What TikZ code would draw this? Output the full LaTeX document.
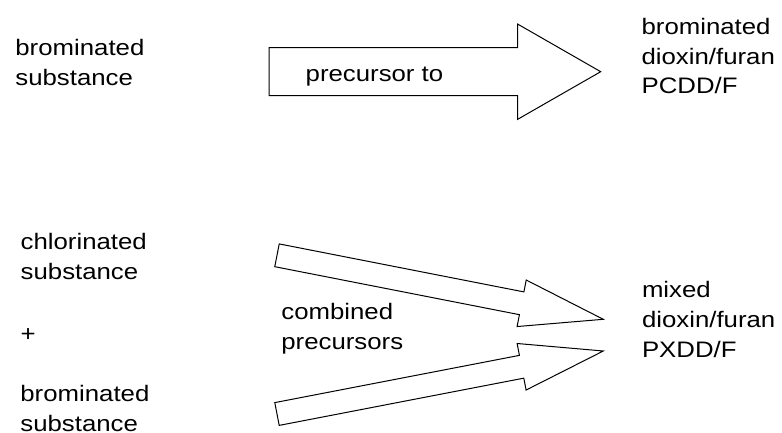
\documentclass[tikz,border=0pt]{standalone}
\usepackage{fontspec}
\setmainfont{Liberation Sans}[FakeStretch=1.15]
\usetikzlibrary{calc}

\tikzset{
  txt/.style={anchor=base west, inner sep=0pt, align=left, font=\fontsize{22.5}{30}\selectfont},
  fatarrow/.style={draw=black, line width=1bp, fill=white, line join=miter}
}

\begin{document}
\begin{tikzpicture}[x=1bp, y=-1bp]
  \useasboundingbox (0,0) rectangle (782,433);

  % substances on the left (placed at the baseline of their last line)
  \node[txt] (brsub) at (15.2,85.7) {brominated\\substance};
  \node[txt] (clsub) at (20.5,279.3) {chlorinated\\substance};
  \node[txt] (plus) at (20.5,342) {+};
  \node[txt] (brsubb) at (20.2,431.7) {brominated\\substance};

  % products on the right
  \node[txt] (brdiox) at (641.4,94) {brominated\\dioxin/furan\\PCDD/F};
  \node[txt] (mixdiox) at (641.8,357.7) {mixed\\dioxin/furan\\PXDD/F};

  % tails and tips of the block arrows
  \coordinate (bigtail) at (269,71.7);
  \coordinate (bigtip) at (600.7,71.7);
  \coordinate (uptail) at (277,255.3);
  \coordinate (uptip) at (603.3,319.3);
  \coordinate (lowtail) at (277,414);
  \coordinate (lowtip) at (603.3,351);

  \foreach \tail/\tip/\sw/\hw in {bigtail/bigtip/24bp/47.7bp, uptail/uptip/11.6bp/23.7bp, lowtail/lowtip/11.6bp/23.7bp} {
    \coordinate (hb) at ($(\tip)!83.2bp!(\tail)$);
    \draw[fatarrow] ($(\tail)!\sw!90:(\tip)$) -- ($(hb)!\sw!90:(\tip)$) -- ($(hb)!\hw!90:(\tip)$)
      -- (\tip) -- ($(hb)!\hw!-90:(\tip)$) -- ($(hb)!\sw!-90:(\tip)$) -- ($(\tail)!\sw!-90:(\tip)$) -- cycle;
  }

  \node[txt] (prec) at (305.5,81.7) {precursor to};
  \node[txt] (comb) at (281.2,349.5) {combined\\precursors};
\end{tikzpicture}
\end{document}
